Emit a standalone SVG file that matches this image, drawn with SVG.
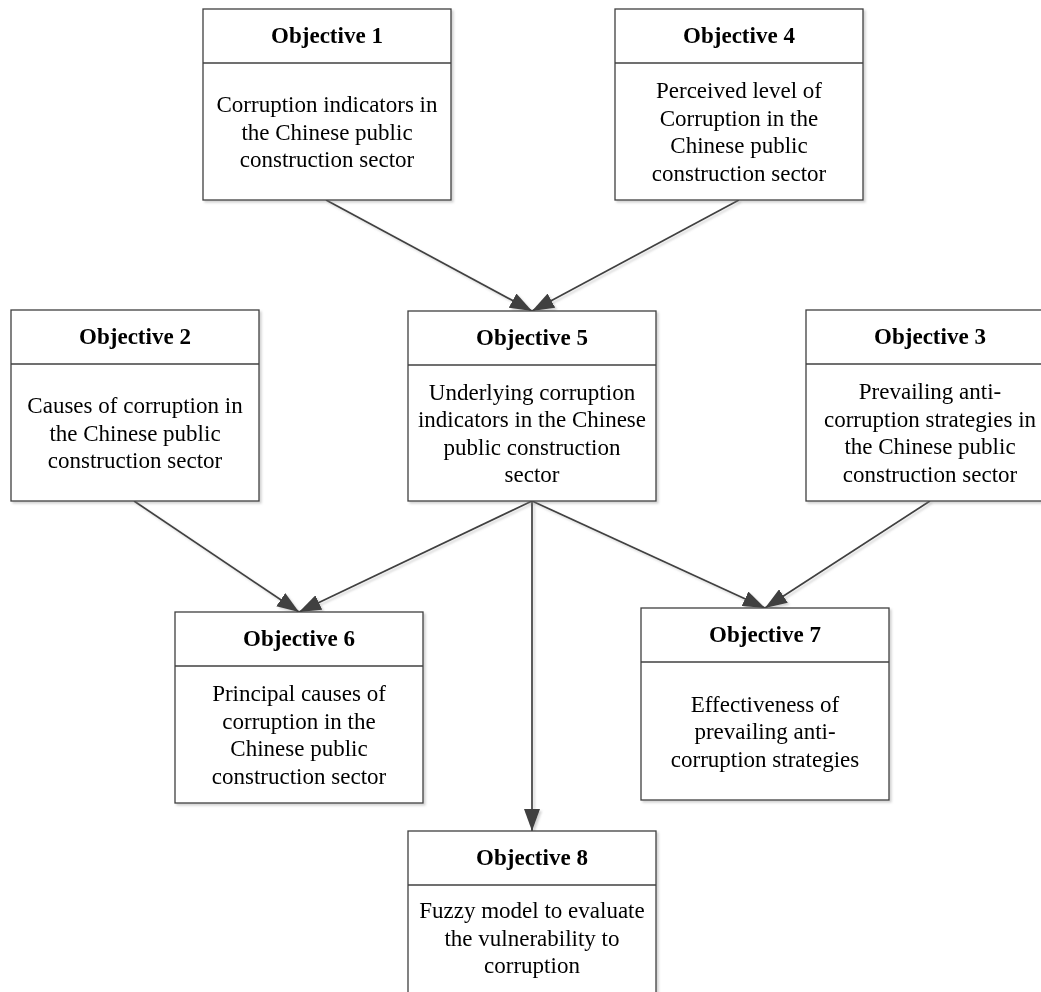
<svg xmlns="http://www.w3.org/2000/svg" width="1041" height="992" viewBox="0 0 1041 992">
  <style>
    .box { fill: #ffffff; stroke: #404040; stroke-width: 1.3; }
    .sep { stroke: #404040; stroke-width: 1.3; }
    .title { font-family: "Liberation Serif", "Times New Roman", serif; font-size: 23px; font-weight: bold; fill: #000; text-anchor: middle; }
    .body { font-family: "Liberation Serif", "Times New Roman", serif; font-size: 23px; fill: #000; text-anchor: middle; }
    .link { fill: none; stroke: #404040; stroke-width: 1.7; marker-end: url(#arrow); }
  </style>
  <defs>
    <filter id="shade" x="-5%" y="-5%" width="115%" height="115%">
      <feDropShadow dx="2" dy="2" stdDeviation="1" flood-color="#808080" flood-opacity="0.35"/>
    </filter>
    <marker id="arrow" viewBox="0 0 22 16" refX="22" refY="8" markerWidth="22" markerHeight="16" markerUnits="userSpaceOnUse" orient="auto">
      <path d="M0,0 L22,8 L0,16 z" fill="#404040"/>
    </marker>
  </defs>

  <!-- connectors -->
  <g id="connectors" filter="url(#shade)">
    <line class="link" x1="326" y1="200" x2="532" y2="311"/>
    <line class="link" x1="739" y1="200" x2="532" y2="311"/>
    <line class="link" x1="134" y1="501" x2="299" y2="612"/>
    <line class="link" x1="532" y1="501" x2="299" y2="612"/>
    <line class="link" x1="532" y1="501" x2="532" y2="831"/>
    <line class="link" x1="532" y1="501" x2="765" y2="608"/>
    <line class="link" x1="930" y1="501" x2="765" y2="608"/>
  </g>

  <!-- Objective 1 -->
  <g id="obj1" filter="url(#shade)">
    <rect class="box" x="203" y="9" width="248" height="191"/>
    <line class="sep" x1="203" y1="63" x2="451" y2="63"/>
    <text class="title" x="327" y="43">Objective 1</text>
    <text class="body" x="327" y="112">Corruption indicators in</text>
    <text class="body" x="327" y="139.5">the Chinese public</text>
    <text class="body" x="327" y="167">construction sector</text>
  </g>

  <!-- Objective 4 -->
  <g id="obj4" filter="url(#shade)">
    <rect class="box" x="615" y="9" width="248" height="191"/>
    <line class="sep" x1="615" y1="63" x2="863" y2="63"/>
    <text class="title" x="739" y="43">Objective 4</text>
    <text class="body" x="739" y="98.25">Perceived level of</text>
    <text class="body" x="739" y="125.75">Corruption in the</text>
    <text class="body" x="739" y="153.25">Chinese public</text>
    <text class="body" x="739" y="180.75">construction sector</text>
  </g>

  <!-- Objective 2 -->
  <g id="obj2" filter="url(#shade)">
    <rect class="box" x="11" y="310" width="248" height="191"/>
    <line class="sep" x1="11" y1="364" x2="259" y2="364"/>
    <text class="title" x="135" y="344">Objective 2</text>
    <text class="body" x="135" y="413">Causes of corruption in</text>
    <text class="body" x="135" y="440.5">the Chinese public</text>
    <text class="body" x="135" y="468">construction sector</text>
  </g>

  <!-- Objective 5 -->
  <g id="obj5" filter="url(#shade)">
    <rect class="box" x="408" y="311" width="248" height="190"/>
    <line class="sep" x1="408" y1="365" x2="656" y2="365"/>
    <text class="title" x="532" y="345">Objective 5</text>
    <text class="body" x="532" y="399.75">Underlying corruption</text>
    <text class="body" x="532" y="427.25">indicators in the Chinese</text>
    <text class="body" x="532" y="454.75">public construction</text>
    <text class="body" x="532" y="482.25">sector</text>
  </g>

  <!-- Objective 3 -->
  <g id="obj3" filter="url(#shade)">
    <rect class="box" x="806" y="310" width="248" height="191"/>
    <line class="sep" x1="806" y1="364" x2="1054" y2="364"/>
    <text class="title" x="930" y="344">Objective 3</text>
    <text class="body" x="930" y="399.25">Prevailing anti-</text>
    <text class="body" x="930" y="426.75">corruption strategies in</text>
    <text class="body" x="930" y="454.25">the Chinese public</text>
    <text class="body" x="930" y="481.75">construction sector</text>
  </g>

  <!-- Objective 6 -->
  <g id="obj6" filter="url(#shade)">
    <rect class="box" x="175" y="612" width="248" height="191"/>
    <line class="sep" x1="175" y1="666" x2="423" y2="666"/>
    <text class="title" x="299" y="646">Objective 6</text>
    <text class="body" x="299" y="701.25">Principal causes of</text>
    <text class="body" x="299" y="728.75">corruption in the</text>
    <text class="body" x="299" y="756.25">Chinese public</text>
    <text class="body" x="299" y="783.75">construction sector</text>
  </g>

  <!-- Objective 7 -->
  <g id="obj7" filter="url(#shade)">
    <rect class="box" x="641" y="608" width="248" height="192"/>
    <line class="sep" x1="641" y1="662" x2="889" y2="662"/>
    <text class="title" x="765" y="642">Objective 7</text>
    <text class="body" x="765" y="711.5">Effectiveness of</text>
    <text class="body" x="765" y="739">prevailing anti-</text>
    <text class="body" x="765" y="766.5">corruption strategies</text>
  </g>

  <!-- Objective 8 -->
  <g id="obj8" filter="url(#shade)">
    <rect class="box" x="408" y="831" width="248" height="191"/>
    <line class="sep" x1="408" y1="885" x2="656" y2="885"/>
    <text class="title" x="532" y="865">Objective 8</text>
    <text class="body" x="532" y="918">Fuzzy model to evaluate</text>
    <text class="body" x="532" y="946">the vulnerability to</text>
    <text class="body" x="532" y="973">corruption</text>
  </g>
</svg>
